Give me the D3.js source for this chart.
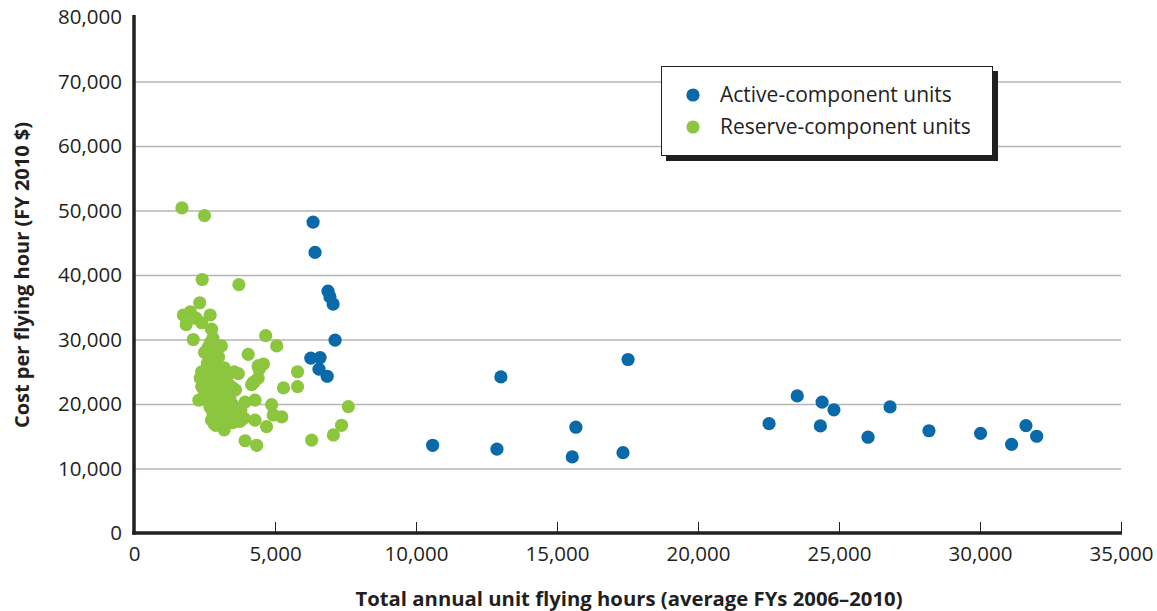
<!DOCTYPE html>
<html>
<head>
<meta charset="utf-8">
<script src="https://cdn.jsdelivr.net/npm/d3@7"></script>
<style>
  html, body { margin: 0; padding: 0; background: #fff; }
  svg { display: block; font-family: "Open Sans", "Noto Sans", sans-serif; }
</style>
</head>
<body>
<svg id="chart" width="1157" height="611"></svg>
<script>
// ---- Data ----
const xTicks = [0, 5000, 10000, 15000, 20000, 25000, 30000, 35000];
const yTicks = [0, 10000, 20000, 30000, 40000, 50000, 60000, 70000, 80000];
const seriesNames = ["Active-component units", "Reserve-component units"];

const activeHours = [6350, 6420, 6880, 6950, 7060, 7130, 6270, 6600, 6560, 6850,
  13010, 17520, 10590, 12870, 15670, 15540, 17340,
  22520, 23520, 24400, 24820, 24340, 26030, 26810, 28190, 30020, 31120, 31630, 32010];
const activeCost = [48200, 43500, 37500, 36600, 35500, 29900, 27100, 27200, 25400, 24300,
  24200, 26900, 13600, 13000, 16400, 11800, 12450,
  16950, 21250, 20300, 19100, 16600, 14850, 19550, 15850, 15450, 13750, 16650, 15000];

const reserveHours = [1700, 2500, 2420, 3720, 2330,
  1750, 2000, 1850, 2200, 2700, 2750, 2400,
  2100, 2800, 2700,
  4670, 5060, 4050, 4590, 4440, 5800, 5800, 5300, 4250, 4170,
  4880, 3940, 4290, 5240, 4940, 4700, 4290, 3760, 3940, 4350,
  6300, 7070, 7360, 7600,
  3550, 3500, 4400, 4400, 4220, 3790, 3300,
  2620, 2500, 2900, 2700, 3000,
  2600, 2900, 3200, 2800,
  2400, 2700, 3000, 3300,
  2350, 2600, 2900, 3200, 3400,
  2400, 2700, 3000, 3300, 3600,
  2500, 2800, 3100, 3400,
  2300, 2600, 2900, 3200, 3500,
  2700, 3000, 3300, 3600,
  2800, 3100, 3500, 3900,
  2750, 3100, 3500,
  2900, 3200, 2850, 3700, 3100, 2950];
const reserveCost = [50400, 49200, 39300, 38500, 35700,
  33800, 34300, 32300, 33300, 33800, 31600, 32600,
  30000, 30200, 29500,
  30600, 29000, 27700, 26200, 25400, 25000, 22700, 22500, 23400, 23000,
  19900, 20300, 20600, 18000, 18300, 16500, 17500, 17300, 14300, 13600,
  14400, 15200, 16700, 19600,
  25000, 22500, 25900, 24000, 23260, 19070, 19380,
  28700, 28000, 27900, 27100, 27300,
  26300, 26000, 25600, 25400,
  25000, 24800, 24600, 24300,
  24000, 23800, 23500, 23300, 22900,
  22700, 22400, 22300, 22000, 22200,
  21600, 21400, 21200, 21000,
  20600, 20500, 20300, 20100, 19900,
  19500, 19300, 19000, 18800,
  18500, 18200, 18000, 17800,
  17500, 17200, 17100,
  16700, 16000, 16900, 24700, 29000, 28500];

const colors = ["#0a69a8", "#8cc63f"];
const ink = "#231f20";

// ---- Layout ----
const svg = d3.select("#chart");
const mLeft = 134, mRight = 1121, mTop = 17, mBottom = 533;
const x = d3.scaleLinear().domain([0, 35000]).range([mLeft, mRight]);
const y = d3.scaleLinear().domain([0, 80000]).range([mBottom, mTop]);
const fmt = d3.format(",");

// gridlines
const grid = svg.append("g").attr("transform", `translate(${mLeft},0)`)
  .call(d3.axisLeft(y).tickValues(yTicks.filter(v => v > 0 && v < 80000)).tickSize(-(mRight - mLeft)).tickFormat(""));
grid.select(".domain").remove();
grid.selectAll("line").attr("stroke", "#b5b5b5").attr("stroke-width", 1.6);

// y axis labels
const ya = svg.append("g").attr("transform", `translate(${mLeft},0)`)
  .call(d3.axisLeft(y).tickValues(yTicks).tickSize(0).tickPadding(12).tickFormat(fmt));
ya.select(".domain").remove();
ya.selectAll("text").attr("font-size", 20.5).attr("fill", ink).attr("font-family", "Open Sans");

// x axis with inward ticks
const xa = svg.append("g").attr("transform", `translate(0,${mBottom})`)
  .call(d3.axisBottom(x).tickValues(xTicks).tickSize(-11).tickPadding(13).tickFormat(fmt));
xa.select(".domain").remove();
xa.selectAll("line").attr("stroke", ink).attr("stroke-width", 1);
xa.selectAll("text").attr("font-size", 20.5).attr("fill", ink).attr("font-family", "Open Sans");

// axis lines
svg.append("line").attr("x1", mLeft).attr("x2", mLeft).attr("y1", mTop - 2).attr("y2", mBottom + 1.75)
  .attr("stroke", ink).attr("stroke-width", 3.5);
svg.append("line").attr("x1", mLeft - 1.75).attr("x2", mRight + 1).attr("y1", mBottom).attr("y2", mBottom)
  .attr("stroke", ink).attr("stroke-width", 3.5);

// points
const reserve = reserveHours.map((h, i) => ({ h, c: reserveCost[i] }));
const active = activeHours.map((h, i) => ({ h, c: activeCost[i] }));
const r = 6.6;
svg.append("g").selectAll("circle").data(reserve).join("circle")
  .attr("cx", d => x(d.h)).attr("cy", d => y(d.c)).attr("r", r).attr("fill", colors[1]);
svg.append("g").selectAll("circle").data(active).join("circle")
  .attr("cx", d => x(d.h)).attr("cy", d => y(d.c)).attr("r", r).attr("fill", colors[0]);

// legend
const lg = svg.append("g");
lg.append("rect").attr("x", 666).attr("y", 71).attr("width", 332).attr("height", 90).attr("fill", ink);
lg.append("rect").attr("x", 661.5).attr("y", 66.5).attr("width", 331).attr("height", 89)
  .attr("fill", "#fff").attr("stroke", ink).attr("stroke-width", 1);
seriesNames.forEach((name, i) => {
  const cy = 95 + i * 32;
  lg.append("circle").attr("cx", 693).attr("cy", cy).attr("r", 6.6).attr("fill", colors[i]);
  lg.append("text").attr("x", 720).attr("y", cy).attr("dy", "0.35em")
    .attr("font-size", 21).attr("fill", ink).text(name);
});

// axis titles
svg.append("text").attr("x", 629).attr("y", 606).attr("text-anchor", "middle")
  .attr("font-size", 20.3).attr("font-weight", "bold").attr("fill", ink)
  .text("Total annual unit flying hours (average FYs 2006–2010)");
svg.append("text").attr("transform", "translate(29,275) rotate(-90)").attr("text-anchor", "middle")
  .attr("font-size", 20).attr("font-weight", "bold").attr("fill", ink)
  .text("Cost per flying hour (FY 2010 $)");
</script>
</body>
</html>
